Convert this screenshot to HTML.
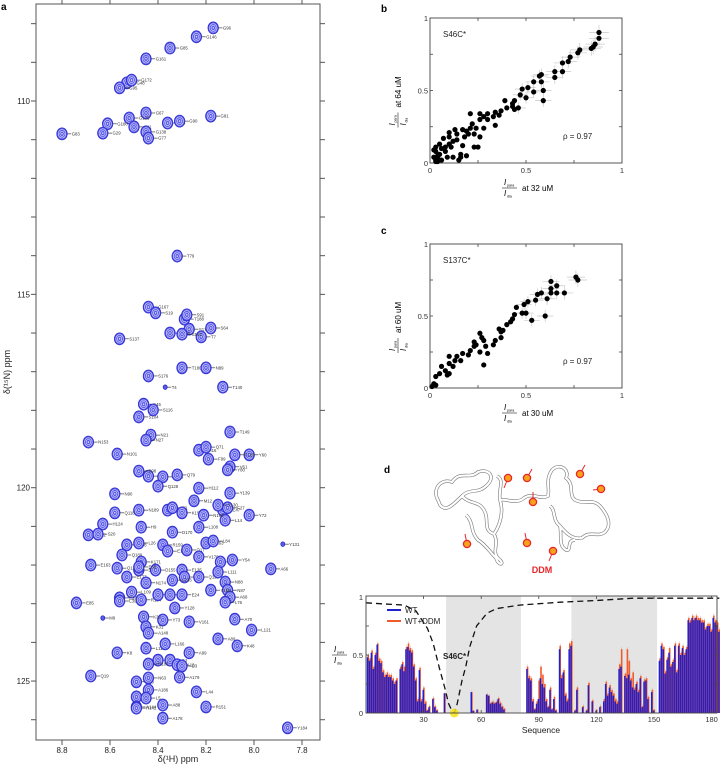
<!DOCTYPE html>
<html><head><meta charset="utf-8">
<style>
html,body{margin:0;padding:0;background:#fff;}
svg{display:block;font-family:"Liberation Sans",Arial,sans-serif;}
</style></head>
<body>
<svg id="fig" width="720" height="765" viewBox="0 0 720 765" xmlns="http://www.w3.org/2000/svg">
  <g id="pa"></g>
  <g id="pb"></g>
  <g id="pc"></g>
  <g id="pd"></g>
</svg>
<script>
// ---------- Panel a data ----------
const peakLabels=["G146","G96","G85","G161","G48","G172","G95","G67","G125","G11","G180","G29","G83","G138","G77","G74","G90","G81","T79","G167","S19","T188","S91","S173","S64","T7","S154","S162","S137","T180","N89","S176","T140","T4","S46","S104","S116","N21","N27","N153","T149","H16","Q71","F99","Y60","F120","V61","Y80","N101","N156","S98","M176","Q128","Q79","N90","M12","H112","Y139","N189","Q118","R182","T2","K157","E47","F27","L14","Y130","N100","L108","Y72","H124","E22","S20","H9","D170","R159","E133","S108","Q189","L26","Q17","N63","L84","V170","A65","Y54","Y131","E163","Q127","A66","K171","E161","D155","E135","F82","E38","E177","N174","L233","Q122","L111","N88","N87","A68","L76","L109","E143","R194","L30","I18","E24","Y159","E85","L39","Y73","Y128","V161","A70","L121","M9","K32","K31","A148","L117","K8","L31","Y52","A13","D3","L166","A99","A89","K48","R183","Q19","A90","A5","A144","N63","A186","A179","L44","R151","A88","A178","L5","R142","Y184"];
const peakH=[8.24,8.17,8.35,8.45,8.53,8.51,8.56,8.45,8.52,8.50,8.61,8.63,8.80,8.45,8.44,8.36,8.31,8.18,8.32,8.44,8.41,8.29,8.28,8.27,8.18,8.22,8.35,8.30,8.56,8.30,8.20,8.44,8.13,8.37,8.46,8.48,8.42,8.43,8.45,8.69,8.10,8.23,8.20,8.19,8.02,8.08,8.10,8.11,8.57,8.44,8.48,8.38,8.40,8.32,8.58,8.25,8.23,8.10,8.48,8.58,8.36,8.34,8.30,8.13,8.11,8.12,8.15,8.21,8.23,8.02,8.63,8.69,8.65,8.47,8.34,8.38,8.36,8.53,8.55,8.48,8.28,8.20,8.17,8.23,8.14,8.09,7.88,8.68,8.57,7.93,8.47,8.48,8.41,8.30,8.29,8.48,8.53,8.45,8.34,8.23,8.15,8.12,8.11,8.10,8.12,8.51,8.56,8.47,8.40,8.35,8.30,8.18,8.74,8.56,8.38,8.33,8.27,8.08,8.01,8.63,8.46,8.45,8.44,8.45,8.57,8.40,8.35,8.32,8.30,8.37,8.27,8.15,8.07,8.44,8.68,8.49,8.49,8.49,8.44,8.44,8.31,8.24,8.20,8.38,8.38,8.45,8.49,7.86];
const peakN=[108.34,108.11,108.63,108.91,109.53,109.46,109.66,110.31,110.44,110.67,110.59,110.83,110.85,110.80,110.96,110.57,110.52,110.39,114.01,115.33,115.48,115.64,115.53,115.90,115.87,116.10,116.00,116.03,116.15,116.90,116.90,117.11,117.40,117.40,117.84,118.17,117.99,118.64,118.77,118.82,118.56,119.03,118.95,119.26,119.15,119.15,119.46,119.54,119.13,119.70,119.57,119.72,119.96,119.67,120.16,120.34,120.01,120.14,120.58,120.65,120.58,120.52,120.65,120.58,120.52,120.84,120.45,120.71,121.02,120.71,120.94,121.22,121.20,121.02,121.15,121.48,121.64,121.48,121.74,121.43,121.61,121.43,121.38,121.79,121.92,121.87,121.46,122.00,122.08,122.10,121.92,122.13,122.13,122.13,122.31,122.05,122.31,122.46,122.39,122.31,122.18,122.44,122.65,122.83,122.96,122.70,122.85,122.90,122.77,122.77,122.77,122.65,122.98,122.93,123.42,123.11,123.47,123.40,123.68,123.37,123.34,123.60,123.76,124.15,124.27,124.46,124.46,124.58,124.61,124.04,124.27,123.91,124.09,124.56,124.87,125.02,125.41,125.67,124.92,125.23,124.90,125.28,125.67,125.62,125.96,125.44,125.70,126.21];
const hTicks=[8.8,8.6,8.4,8.2,8.0,7.8];
const nTicks=[110,115,120,125];

// ---------- Panel b/c data ----------
const bX=[0.88,0.88,0.85,0.84,0.86,0.78,0.77,0.73,0.72,0.69,0.69,0.65,0.65,0.58,0.57,0.58,0.59,0.59,0.54,0.54,0.51,0.48,0.47,0.50,0.44,0.43,0.43,0.39,0.40,0.37,0.34,0.33,0.34,0.30,0.28,0.26,0.21,0.26,0.24,0.23,0.28,0.21,0.20,0.18,0.17,0.17,0.14,0.13,0.26,0.25,0.23,0.19,0.16,0.14,0.10,0.10,0.08,0.06,0.09,0.04,0.05,0.03,0.03,0.04,0.03,0.03,0.02,0.05,0.07,0.10,0.11,0.12,0.16,0.04,0.02,0.03,0.30,0.36,0.44,0.46,0.22,0.19,0.12,0.08,0.06,0.15];
const bY=[0.90,0.86,0.80,0.79,0.82,0.78,0.76,0.73,0.70,0.69,0.63,0.63,0.59,0.61,0.60,0.56,0.50,0.43,0.56,0.49,0.52,0.51,0.47,0.45,0.43,0.41,0.39,0.43,0.38,0.36,0.35,0.32,0.26,0.34,0.32,0.34,0.34,0.30,0.24,0.20,0.24,0.24,0.20,0.18,0.12,0.23,0.16,0.23,0.18,0.11,0.11,0.05,0.06,0.20,0.18,0.13,0.11,0.10,0.04,0.04,0.06,0.03,0.02,0.01,0.08,0.11,0.09,0.13,0.17,0.21,0.11,0.04,0.04,0.05,0.04,0.01,0.30,0.33,0.37,0.38,0.27,0.22,0.15,0.08,0.02,0.02];
const cX=[0.76,0.77,0.63,0.66,0.70,0.66,0.63,0.63,0.61,0.60,0.58,0.56,0.55,0.51,0.49,0.53,0.50,0.48,0.45,0.44,0.43,0.42,0.40,0.38,0.37,0.36,0.37,0.34,0.33,0.28,0.26,0.27,0.24,0.23,0.29,0.30,0.26,0.23,0.21,0.20,0.28,0.17,0.16,0.14,0.10,0.10,0.12,0.08,0.06,0.05,0.09,0.10,0.03,0.02,0.01,0.03,0.13];
const cY=[0.77,0.75,0.74,0.71,0.66,0.66,0.69,0.66,0.62,0.50,0.66,0.65,0.61,0.60,0.58,0.47,0.52,0.52,0.56,0.51,0.48,0.46,0.44,0.40,0.39,0.41,0.35,0.33,0.30,0.33,0.38,0.35,0.30,0.29,0.29,0.24,0.25,0.32,0.26,0.23,0.16,0.24,0.19,0.22,0.22,0.17,0.15,0.12,0.15,0.10,0.09,0.10,0.08,0.03,0.01,0.02,0.19];
const scTicks=[0,0.5,1];

// ---------- Panel d data ----------
const wtVals=[.48,.45,.52,.38,.50,.59,.45,.43,.35,.31,.33,.31,.31,.28,.25,.28,0,.38,.42,.36,.55,.57,.54,.52,.40,.28,.10,.37,.10,.20,.08,.02,.05,0,.12,.05,.02,0,0,0,.17,0,0,0,0,0,0,0,0,0,0,0,0,0,.18,.02,0,.03,0,0,0,0,.16,.15,.08,.09,.08,.09,.12,.08,.05,.03,0,0,0,0,0,0,0,0,0,0,0,.38,.30,.28,.10,.03,.08,.12,.30,.25,.22,.10,.05,.20,.03,.12,.02,0,.55,.30,.35,.15,.10,.55,.58,0,.02,.20,0,0,.05,0,.02,.24,0,.10,0,.02,0,.05,0,.10,.25,.15,.22,.18,.15,.10,.08,.38,.40,0,.32,.30,.33,.28,.22,.20,.25,.18,.30,.05,.27,.28,.12,0,.18,.02,0,0,.45,.58,.55,.34,.46,.52,.40,.44,.58,.35,.58,.50,.56,.50,.55,.80,.78,.82,.80,.82,.80,.80,.78,.78,.72,.75,.75,.70,.82,.78,.76,.70];
const ddmVals=[.50,.47,.54,.40,.52,.60,.47,.45,.37,.33,.35,.33,.33,.30,.27,.30,0,.40,.44,.40,.57,.60,.56,.54,.42,.30,.12,.39,.12,.22,.10,.03,.06,0,.13,.06,.03,0,0,0,.17,0,0,0,0,0,0,0,0,0,0,0,0,0,.18,.02,0,.03,0,0,0,0,.16,.15,.09,.10,.09,.10,.13,.09,.06,.04,0,0,0,0,0,0,0,0,0,0,0,.40,.32,.30,.12,.04,.10,.28,.40,.33,.25,.12,.06,.22,.04,.14,.03,0,.58,.33,.37,.17,.12,.60,.62,0,.03,.22,0,0,.06,0,.03,.26,0,.11,0,.03,0,.06,0,.12,.27,.17,.24,.20,.17,.12,.10,.42,.55,0,.34,.55,.45,.30,.35,.22,.27,.20,.32,.06,.29,.30,.14,0,.20,.03,0,0,.47,.60,.57,.36,.48,.56,.42,.46,.60,.37,.60,.52,.58,.52,.57,.82,.80,.84,.82,.84,.82,.82,.80,.80,.74,.77,.77,.72,.84,.80,.78,.72];
const curveRes=[0,10,20,26,32,35,38,41,43,45,46,47.5,50,52,54,57.6,63,68,80,101,120,139,160,184];
const curveVal=[0.95,0.94,0.93,0.88,0.73,0.60,0.40,0.22,0.08,0.01,0,0.08,0.28,0.40,0.57,0.75,0.86,0.90,0.93,0.955,0.97,0.99,0.99,0.99];
const bandStart=[41.7,107];
const bandEnd=[80.7,151.6];
const seqTicks=[30,60,90,120,150,180];
const preTicks=[0,0.5,1];

const NS="http://www.w3.org/2000/svg";
function mk(tag,attrs,parent){const e=document.createElementNS(NS,tag);for(const k in attrs)e.setAttribute(k,attrs[k]);parent.appendChild(e);return e;}
function txt(s,attrs,parent){const e=mk('text',attrs,parent);e.textContent=s;return e;}

// ===== Panel a =====
const pa=document.getElementById('pa');
const ax=h=>62+(8.8-h)*240;
const ay=n=>101+(n-110)*38.67;
let t;
t=txt('a',{x:1,y:10,'font-size':10,'font-weight':'bold'},pa);


const peaksG=mk('g',{},pa);


for(let i=0;i<peakLabels.length;i++){
  const x=ax(peakH[i]),y=ay(peakN[i]);
  const small=(peakLabels[i]==='T4'||peakLabels[i]==='Y131'||peakLabels[i]==='M9');
  const g=mk('g',{},peaksG);
  
  
  const r=small?2:5.2;
  mk('ellipse',{cx:x,cy:y,rx:r,ry:r*1.15,fill:'#5a5aea',stroke:'#2a2ad0','stroke-width':0.8},g);
  if(!small){
    mk('ellipse',{cx:x,cy:y,rx:r*0.72,ry:r*0.82,fill:'none',stroke:'#e2e2ff','stroke-width':0.6},g);
    mk('ellipse',{cx:x,cy:y,rx:r*0.42,ry:r*0.5,fill:'none',stroke:'#e2e2ff','stroke-width':0.6},g);
    mk('circle',{cx:x,cy:y,r:0.7,fill:'#fff'},g);
  }
  mk('line',{x1:x+r,y1:y,x2:x+r+4,y2:y,stroke:'#222','stroke-width':0.6},g);
  txt(peakLabels[i],{x:x+r+4.5,y:y+1.6,'font-size':4.3,fill:'#333'},g);
}
const fa=mk('rect',{x:36,y:4,width:284,height:736,fill:'none',stroke:'#555','stroke-width':1},pa);


for(const h of hTicks){
  const x=ax(h);
  mk('line',{x1:x,y1:740,x2:x,y2:745,stroke:'#555'},pa);
  mk('line',{x1:x,y1:0,x2:x,y2:4,stroke:'#555'},pa);
  t=txt(h.toFixed(1),{x:x,y:753,'font-size':8,'text-anchor':'middle',fill:'#222'},pa);
  
  
}
for(let n=108;n<=126;n++){
  const y=ay(n);
  mk('line',{x1:31,y1:y,x2:36,y2:y,stroke:'#555'},pa);
  mk('line',{x1:320,y1:y,x2:325,y2:y,stroke:'#555'},pa);
}
for(const n of nTicks){
  t=txt(String(n),{x:30,y:ay(n)+3,'font-size':8,'text-anchor':'end',fill:'#222'},pa);
  
  
}
t=txt('δ(¹H) ppm',{x:178,y:762,'font-size':9,'text-anchor':'middle',fill:'#222'},pa);


t=txt('δ(¹⁵N) ppm',{x:0,y:0,'font-size':9,'text-anchor':'middle',fill:'#222',transform:'translate(10,372) rotate(-90)'},pa);



// ===== Scatter panels =====
function frac(parent,x,y,fs){
  const g=mk('g',{},parent);
  txt('I',{x:x+2,y:y-3,'font-size':fs,'font-style':'italic'},g);
  txt('para',{x:x+5,y:y-1.5,'font-size':fs*0.45},g);
  mk('line',{x1:x,y1:y,x2:x+15,y2:y,stroke:'#222','stroke-width':0.6},g);
  txt('I',{x:x+2,y:y+8,'font-size':fs,'font-style':'italic'},g);
  txt('dia',{x:x+5,y:y+9.5,'font-size':fs*0.45},g);
  return g;
}
function scatter(pid,top,bottom,xs,ys,label,xlab,ylab,letter,ly){
  const p=document.getElementById(pid);
  const L=430,R=622;
  const sx=v=>L+v*(R-L);
  const sy=v=>bottom-v*(bottom-top);
  let t=txt(letter,{x:381,y:ly,'font-size':10,'font-weight':'bold'},p);
  
  
  const fr=mk('rect',{x:L,y:top,width:R-L,height:bottom-top,fill:'none',stroke:'#444','stroke-width':0.9},p);
  
  
  for(const v of [0.25,0.5,0.75]){
    mk('line',{x1:sx(v),y1:bottom,x2:sx(v),y2:bottom-3,stroke:'#444','stroke-width':0.8},p);
    mk('line',{x1:sx(v),y1:top,x2:sx(v),y2:top+3,stroke:'#444','stroke-width':0.8},p);
    mk('line',{x1:L,y1:sy(v),x2:L+3,y2:sy(v),stroke:'#444','stroke-width':0.8},p);
    mk('line',{x1:R,y1:sy(v),x2:R-3,y2:sy(v),stroke:'#444','stroke-width':0.8},p);
  }
  for(const v of scTicks){
    t=txt(String(v),{x:sx(v),y:bottom+10,'font-size':7.5,'text-anchor':'middle',fill:'#333'},p);
    
    
    t=txt(String(v),{x:L-2,y:sy(v)+3,'font-size':7.5,'text-anchor':'end',fill:'#333'},p);
    
    
  }
  const pts=mk('g',{},p);
  
  
  for(let i=0;i<xs.length;i++){
    if(xs[i]>0.45){
      const e=0.025+xs[i]*0.03;
      mk('line',{x1:sx(xs[i]-e),y1:sy(ys[i]),x2:sx(xs[i]+e),y2:sy(ys[i]),stroke:'#c8c8c8','stroke-width':0.7},pts);
      mk('line',{x1:sx(xs[i]),y1:sy(ys[i]-e),x2:sx(xs[i]),y2:sy(ys[i]+e),stroke:'#c8c8c8','stroke-width':0.7},pts);
    }
  }
  for(let i=0;i<xs.length;i++){
    const c=mk('circle',{cx:sx(xs[i]),cy:sy(ys[i]),r:2.6,fill:'#000'},pts);
    
    
  }
  t=txt(label,{x:L+13,y:top+19,'font-size':8,fill:'#222'},p);
  
  
  t=txt('ρ = 0.97',{x:L+133,y:bottom-24,'font-size':8,fill:'#222'},p);
  
  
  const xl=frac(p,502,bottom+25,8);
  
  
  txt(xlab,{x:522,y:bottom+28,'font-size':8},xl);
  const yl=mk('g',{transform:'translate(398,'+((top+bottom)/2)+') rotate(-90)'},p);
  
  
  frac(yl,-37,0,8);
  txt(ylab,{x:-17,y:3,'font-size':8},yl);
}
scatter('pb',18,163,bX,bY,'S46C*','at 32 uM','at 64 uM','b',12);
scatter('pc',244,388,cX,cY,'S137C*','at 30 uM','at 60 uM','c',234);

// ===== Panel d =====
const pd=document.getElementById('pd');
const dx=r=>366+r*1.92;
const dy=v=>713-v*116;
t=txt('d',{x:384,y:473,'font-size':10,'font-weight':'bold'},pd);


const cart=mk('g',{},pd);


const chainD="M438,500 C432,490 440,478 452,482 C460,470 470,480 478,472 C490,468 496,478 486,486 C478,494 470,488 462,496 C452,506 446,512 440,505 Z M462,496 C470,505 478,500 484,510 C490,520 482,530 494,534 C500,545 490,552 500,560 C505,565 498,566 496,558 C490,552 486,545 478,540 C470,532 474,522 466,515 M494,534 C500,525 504,512 500,500 C498,490 505,480 497,476 M500,500 C505,498 516,505 524,498 C532,492 540,500 548,496 C550,488 545,480 552,470 C560,462 570,470 566,478 C575,485 568,495 575,500 C585,505 592,498 600,506 C608,515 612,525 605,532 C598,538 590,530 582,538 C572,540 565,532 560,526 C552,520 556,510 550,506 M560,526 C562,536 558,545 566,550 C572,552 566,540 575,540";
mk('path',{d:chainD,fill:'none',stroke:'#777','stroke-width':3.4,'stroke-linejoin':'round'},cart);
mk('path',{d:chainD,fill:'none',stroke:'#fff','stroke-width':2.2,'stroke-linejoin':'round'},cart);
const ddmX=[508,527,533,580,601,467,527,553];
const ddmY=[478,478,502,474,489,544,543,551];
const ddmDX=[-4,5,0,5,-8,-2,-2,-4];
const ddmDY=[10,-9,-10,-9,1,-10,-10,10];
for(let i=0;i<ddmX.length;i++){
  const g=mk('g',{},cart);
  
  
  mk('line',{x1:ddmX[i],y1:ddmY[i],x2:ddmX[i]+ddmDX[i],y2:ddmY[i]+ddmDY[i],stroke:'#e8262a','stroke-width':1},g);
  mk('circle',{cx:ddmX[i],cy:ddmY[i],r:3.6,fill:'#f7a21b',stroke:'#e8262a','stroke-width':1.3},g);
}
t=txt('DDM',{x:542,y:573,'font-size':9,'font-weight':'bold','text-anchor':'middle',fill:'#e8262a'},pd);


for(let i=0;i<bandStart.length;i++){
  const b=mk('rect',{x:dx(bandStart[i]),y:596,width:dx(bandEnd[i])-dx(bandStart[i]),height:117,fill:'#e4e4e4'},pd);
  
  
}
const barsG=mk('g',{},pd);


for(let i=0;i<ddmVals.length;i++){
  const r=i+1;
  const b=mk('rect',{x:dx(r)-0.5,y:dy(ddmVals[i]),width:1.6,height:dy(0)-dy(ddmVals[i]),fill:'#f05a28'},barsG);
  
  
  if(ddmVals[i]>0.05){
    mk('line',{x1:dx(r)+0.3,y1:dy(ddmVals[i])-2,x2:dx(r)+0.3,y2:dy(ddmVals[i]),stroke:'#c9a0a0','stroke-width':0.4},barsG);
  }
}
for(let i=0;i<wtVals.length;i++){
  const r=i+1;
  const b=mk('rect',{x:dx(r)-1.1,y:dy(wtVals[i]),width:1.5,height:dy(0)-dy(wtVals[i]),fill:'#2020d0'},barsG);
  
  
}
let dstr='';
for(let i=0;i<curveRes.length;i++){dstr+=(i?'L':'M')+dx(curveRes[i]).toFixed(1)+','+dy(curveVal[i]).toFixed(1);}
const cv=mk('path',{d:dstr,fill:'none',stroke:'#111','stroke-width':1.3,'stroke-dasharray':'6,4'},pd);


const sd=mk('circle',{cx:dx(46),cy:dy(0),r:4.5,fill:'#f5e21a',opacity:0.85},pd);


t=txt('S46C*',{x:443,y:659,'font-size':8,'font-weight':'bold',fill:'#222'},pd);


const fd=mk('rect',{x:366,y:596,width:351,height:117,fill:'none',stroke:'#444','stroke-width':0.9},pd);


for(const s of seqTicks){
  mk('line',{x1:dx(s),y1:713,x2:dx(s),y2:710,stroke:'#444','stroke-width':0.8},pd);
  mk('line',{x1:dx(s),y1:596,x2:dx(s),y2:599,stroke:'#444','stroke-width':0.8},pd);
  t=txt(String(s),{x:dx(s),y:722,'font-size':7.5,'text-anchor':'middle',fill:'#333'},pd);
  
  
}
for(const v of [0.25,0.5,0.75]){
  mk('line',{x1:366,y1:dy(v),x2:369,y2:dy(v),stroke:'#444','stroke-width':0.8},pd);
  mk('line',{x1:717,y1:dy(v),x2:714,y2:dy(v),stroke:'#444','stroke-width':0.8},pd);
}
for(const v of preTicks){
  t=txt(String(v),{x:363,y:dy(v)+3,'font-size':7.5,'text-anchor':'end',fill:'#333'},pd);
  
  
}
t=txt('Sequence',{x:541,y:733,'font-size':8.5,'text-anchor':'middle',fill:'#222'},pd);


const ydl=frac(pd,332,655,8);


const lg=mk('g',{},pd);


let le=mk('g',{},lg);


mk('line',{x1:387,y1:610,x2:401,y2:610,stroke:'#2020d0','stroke-width':2},le);
txt('WT',{x:405,y:613,'font-size':8,fill:'#222'},le);
le=mk('g',{},lg);


mk('line',{x1:387,y1:621,x2:401,y2:621,stroke:'#f05a28','stroke-width':2},le);
txt('WT+DDM',{x:405,y:624,'font-size':8,fill:'#222'},le);
</script>
</body></html>
